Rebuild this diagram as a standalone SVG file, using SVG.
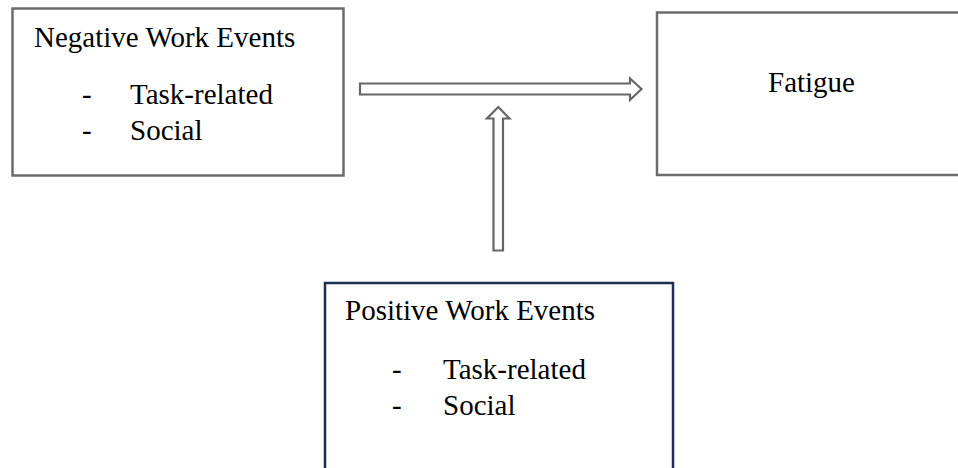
<svg xmlns="http://www.w3.org/2000/svg" width="958" height="468" viewBox="0 0 958 468">
<style>
.box{fill:#fff;stroke:#6b6b6b;stroke-width:2.5}
.navy{fill:#fff;stroke:#1f2d4f;stroke-width:2.5}
.arr{fill:#fff;stroke:#666;stroke-width:2.2;stroke-linejoin:miter}
text{font-family:"Liberation Serif","Times New Roman",serif;font-size:29px;fill:#000}
</style>
<rect width="958" height="468" fill="#fff"/>
<g id="negative">
<rect class="box" x="12.5" y="8.5" width="331" height="167"/>
<text x="34" y="46.5">Negative Work Events</text>
<text x="82" y="104">-</text>
<text x="130" y="104">Task-related</text>
<text x="82" y="140">-</text>
<text x="130" y="140">Social</text>
</g>
<g id="fatigue">
<rect class="box" x="657" y="12.5" width="320" height="162.5"/>
<text x="768" y="92">Fatigue</text>
</g>
<g id="positive">
<rect class="navy" x="325" y="283" width="348" height="200"/>
<text x="345" y="320">Positive Work Events</text>
<text x="392" y="379">-</text>
<text x="443" y="379">Task-related</text>
<text x="392" y="415">-</text>
<text x="443" y="415">Social</text>
</g>
<g id="connectors">
<polygon class="arr" points="360,83.5 630,83.5 630,78.5 641.5,89 630,100 630,94.5 360,94.5"/>
<polygon class="arr" points="493.5,250.5 493.5,118.5 487,118.5 498.3,107 509.5,118.5 503,118.5 503,250.5"/>
</g>
</svg>
